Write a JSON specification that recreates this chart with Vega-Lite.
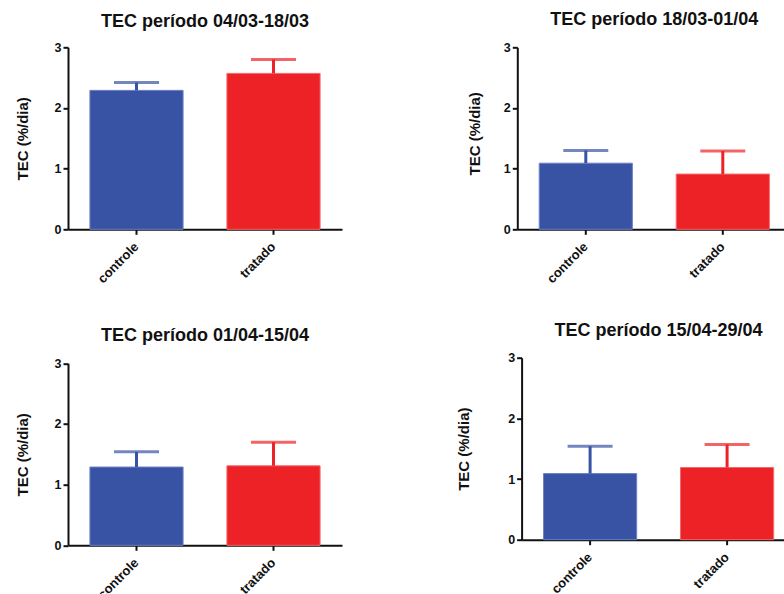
{
  "$schema": "https://vega.github.io/schema/vega-lite/v6.json",
  "autosize": "none",
  "padding": {"left": 68, "top": 47.3, "right": 716, "bottom": 546.7},
  "background": "white",
  "datasets": {
    "tec": [
      {"periodo": "04/03-18/03", "grupo": "controle", "tec": 2.29, "sup": 2.42},
      {"periodo": "04/03-18/03", "grupo": "tratado", "tec": 2.57, "sup": 2.80},
      {"periodo": "18/03-01/04", "grupo": "controle", "tec": 1.09, "sup": 1.30},
      {"periodo": "18/03-01/04", "grupo": "tratado", "tec": 0.91, "sup": 1.29},
      {"periodo": "01/04-15/04", "grupo": "controle", "tec": 1.29, "sup": 1.54},
      {"periodo": "01/04-15/04", "grupo": "tratado", "tec": 1.31, "sup": 1.70},
      {"periodo": "15/04-29/04", "grupo": "controle", "tec": 1.09, "sup": 1.54},
      {"periodo": "15/04-29/04", "grupo": "tratado", "tec": 1.19, "sup": 1.57}
    ]
  },
  "config": {
    "font": "Liberation Sans",
    "view": {"stroke": null},
    "title": {"font": "Liberation Sans", "fontSize": 18, "fontWeight": "bold", "color": "#111111", "anchor": "middle", "baseline": "alphabetic"},
    "axis": {
      "domainColor": "#111111", "domainWidth": 2,
      "tickColor": "#111111", "tickWidth": 2, "tickSize": 5,
      "labelFont": "Liberation Sans", "labelFontWeight": "bold", "labelColor": "#111111",
      "titleFont": "Liberation Sans", "titleFontWeight": "bold", "titleColor": "#111111",
      "grid": false
    },
    "axisX": {"labelAngle": -45, "labelAlign": "right", "labelBaseline": "middle", "labelFontSize": 13, "labelPadding": 10, "title": null},
    "axisY": {"labelFontSize": 12.5, "labelPadding": 2, "format": "d", "titleFontSize": 15, "titleBaseline": "middle", "titleAngle": 270},
    "bar": {"strokeWidth": 1},
    "tick": {"thickness": 3, "size": 45},
    "rule": {"strokeWidth": 3}
  },
  "bounds": "flush",
  "spacing": 310.4,
  "vconcat": [
    {
      "bounds": "flush",
      "spacing": 175.3,
      "hconcat": [
        {
          "width": 274, "height": 182,
          "title": {"text": "TEC período 04/03-18/03", "offset": 10},
          "data": {"name": "tec"},
          "transform": [{"filter": "datum.periodo === '04/03-18/03'"}],
          "encoding": {
            "x": {"field": "grupo", "type": "nominal", "sort": ["controle", "tratado"], "scale": {"paddingInner": 0.32, "paddingOuter": 0.16}},
            "color": {"field": "grupo", "type": "nominal", "scale": {"domain": ["controle", "tratado"], "range": ["#3953a4", "#ec2227"]}, "legend": null}
          },
          "layer": [
            {"mark": "bar", "encoding": {
              "y": {"field": "tec", "type": "quantitative", "scale": {"domain": [0, 3]}, "axis": {"title": "TEC (%/dia)", "titleX": -46, "values": [0, 1, 2, 3], "format": "d"}},
              "stroke": {"field": "grupo", "type": "nominal", "scale": {"domain": ["controle", "tratado"], "range": ["#6d82c4", "#f4686b"]}, "legend": null}}},
            {"mark": "rule", "encoding": {"y": {"field": "tec", "type": "quantitative"}, "y2": {"field": "sup"}}},
            {"mark": "tick", "encoding": {"y": {"field": "sup", "type": "quantitative"}}}
          ]
        },
        {
          "width": 274, "height": 182,
          "title": {"text": "TEC período 18/03-01/04", "offset": 12},
          "data": {"name": "tec"},
          "transform": [{"filter": "datum.periodo === '18/03-01/04'"}],
          "encoding": {
            "x": {"field": "grupo", "type": "nominal", "sort": ["controle", "tratado"], "scale": {"paddingInner": 0.32, "paddingOuter": 0.16}},
            "color": {"field": "grupo", "type": "nominal", "scale": {"domain": ["controle", "tratado"], "range": ["#3953a4", "#ec2227"]}, "legend": null}
          },
          "layer": [
            {"mark": "bar", "encoding": {
              "y": {"field": "tec", "type": "quantitative", "scale": {"domain": [0, 3]}, "axis": {"title": "TEC (%/dia)", "titleX": -42.6, "titleY": 86, "values": [0, 1, 2, 3], "format": "d"}},
              "stroke": {"field": "grupo", "type": "nominal", "scale": {"domain": ["controle", "tratado"], "range": ["#6d82c4", "#f4686b"]}, "legend": null}}},
            {"mark": "rule", "encoding": {"y": {"field": "tec", "type": "quantitative"}, "y2": {"field": "sup"}}},
            {"mark": "tick", "encoding": {"y": {"field": "sup", "type": "quantitative"}}}
          ]
        }
      ]
    },
    {
      "bounds": "flush",
      "spacing": 179.6,
      "hconcat": [
        {
          "width": 274, "height": 187.6,
          "title": {"text": "TEC período 01/04-15/04", "offset": 12},
          "data": {"name": "tec"},
          "transform": [{"filter": "datum.periodo === '01/04-15/04'"}],
          "encoding": {
            "x": {"field": "grupo", "type": "nominal", "sort": ["controle", "tratado"], "scale": {"paddingInner": 0.32, "paddingOuter": 0.16}},
            "color": {"field": "grupo", "type": "nominal", "scale": {"domain": ["controle", "tratado"], "range": ["#3953a4", "#ec2227"]}, "legend": null}
          },
          "layer": [
            {"mark": "bar", "encoding": {
              "y": {"field": "tec", "type": "quantitative", "scale": {"domain": [0, 3], "range": [187.6, 5.6]}, "axis": {"title": "TEC (%/dia)", "titleX": -46, "values": [0, 1, 2, 3], "format": "d"}},
              "stroke": {"field": "grupo", "type": "nominal", "scale": {"domain": ["controle", "tratado"], "range": ["#6d82c4", "#f4686b"]}, "legend": null}}},
            {"mark": "rule", "encoding": {"y": {"field": "tec", "type": "quantitative"}, "y2": {"field": "sup"}}},
            {"mark": "tick", "encoding": {"y": {"field": "sup", "type": "quantitative"}}}
          ]
        },
        {
          "width": 274, "height": 182,
          "title": {"text": "TEC período 15/04-29/04", "offset": 12},
          "data": {"name": "tec"},
          "transform": [{"filter": "datum.periodo === '15/04-29/04'"}],
          "encoding": {
            "x": {"field": "grupo", "type": "nominal", "sort": ["controle", "tratado"], "scale": {"paddingInner": 0.32, "paddingOuter": 0.16}},
            "color": {"field": "grupo", "type": "nominal", "scale": {"domain": ["controle", "tratado"], "range": ["#3953a4", "#ec2227"]}, "legend": null}
          },
          "layer": [
            {"mark": "bar", "encoding": {
              "y": {"field": "tec", "type": "quantitative", "scale": {"domain": [0, 3]}, "axis": {"title": "TEC (%/dia)", "titleX": -57.6, "values": [0, 1, 2, 3], "format": "d"}},
              "stroke": {"field": "grupo", "type": "nominal", "scale": {"domain": ["controle", "tratado"], "range": ["#6d82c4", "#f4686b"]}, "legend": null}}},
            {"mark": "rule", "encoding": {"y": {"field": "tec", "type": "quantitative"}, "y2": {"field": "sup"}}},
            {"mark": "tick", "encoding": {"y": {"field": "sup", "type": "quantitative"}}}
          ]
        }
      ]
    }
  ]
}
